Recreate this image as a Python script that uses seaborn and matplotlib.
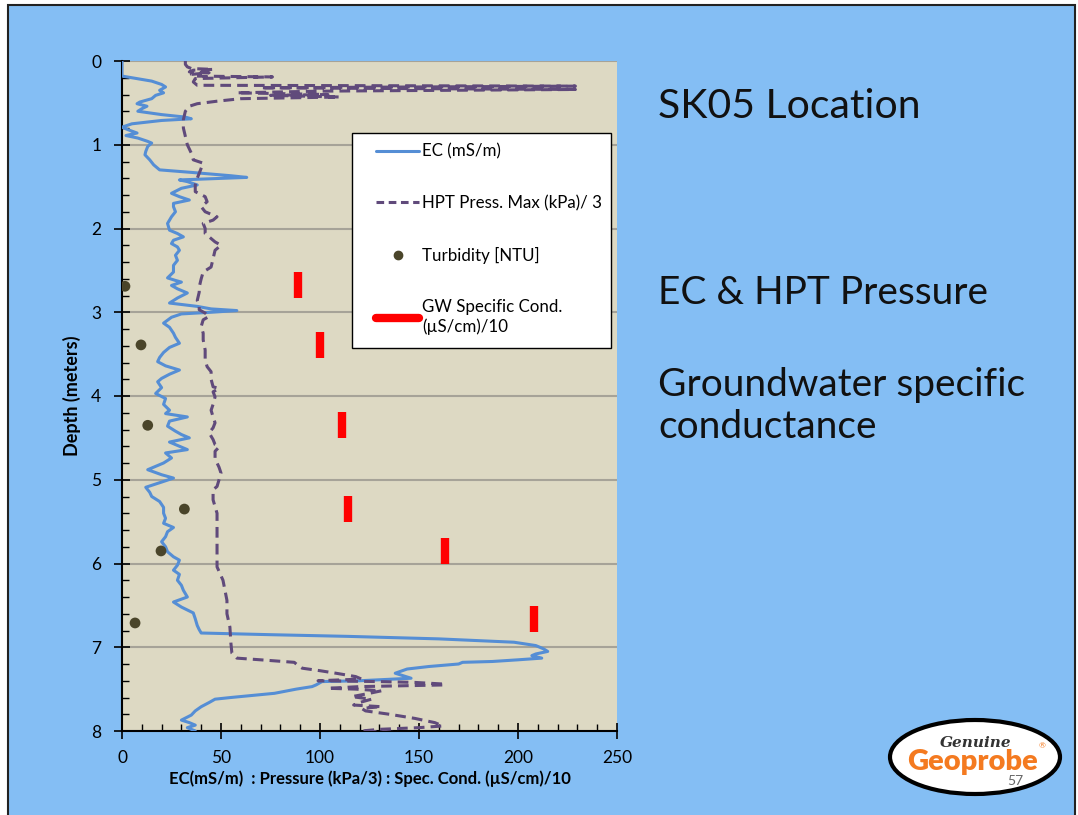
import matplotlib
matplotlib.use("Agg")
import matplotlib.pyplot as plt
from matplotlib.patches import Rectangle, Ellipse
from matplotlib.lines import Line2D
from matplotlib.ticker import MultipleLocator
import seaborn as sns
import pandas as pd

# EC log (depth m, EC mS/m)
ec_depth = [0.00, 0.18, 0.20, 0.24, 0.28, 0.31, 0.35, 0.38, 0.41, 0.45, 0.49, 0.51, 0.54, 0.57, 0.60,
            0.64, 0.67, 0.69, 0.71, 0.75, 0.79, 0.82, 0.86, 0.89, 0.92, 0.96, 0.98, 1.02, 1.08, 1.12,
            1.18, 1.24, 1.30, 1.33, 1.37, 1.39, 1.41, 1.42, 1.44, 1.48, 1.52, 1.58, 1.62, 1.66, 1.70,
            1.74, 1.80, 1.86, 1.94, 2.02, 2.06, 2.10, 2.14, 2.18, 2.22, 2.26, 2.32, 2.38, 2.44, 2.52,
            2.59, 2.62, 2.64, 2.68, 2.72, 2.77, 2.83, 2.89, 2.93, 2.96, 2.98, 3.00, 3.02, 3.06, 3.13,
            3.18, 3.25, 3.30, 3.37, 3.42, 3.48, 3.54, 3.59, 3.64, 3.69, 3.74, 3.79, 3.83, 3.90, 3.97,
            4.03, 4.10, 4.17, 4.21, 4.25, 4.30, 4.36, 4.42, 4.46, 4.50, 4.55, 4.60, 4.64, 4.68, 4.74,
            4.80, 4.88, 4.94, 4.98, 5.02, 5.09, 5.15, 5.20, 5.26, 5.33, 5.40, 5.46, 5.52, 5.57, 5.62,
            5.68, 5.74, 5.80, 5.86, 5.92, 5.96, 6.02, 6.08, 6.13, 6.20, 6.26, 6.32, 6.40, 6.46, 6.52,
            6.59, 6.66, 6.74, 6.79, 6.83, 6.85, 6.87, 6.90, 6.94, 6.98, 7.02, 7.05, 7.08, 7.10, 7.13,
            7.15, 7.17, 7.18, 7.20, 7.23, 7.26, 7.31, 7.34, 7.37, 7.40, 7.41, 7.45, 7.47, 7.50, 7.55,
            7.60, 7.62, 7.66, 7.71, 7.76, 7.81, 7.87, 7.90, 7.93, 7.96, 8.00]
ec_value = [0, 0, 5, 15, 20, 22, 19, 21, 17, 15, 9, 7.6, 12.6, 10, 8,
            20, 32, 35, 20, 5, 0, 3, 7.6, 2, 8, 13, 15, 13, 12, 11.6,
            14, 16, 19, 35, 55, 63, 40, 29, 33, 38, 30, 25, 29, 34, 26,
            26, 27, 25, 23, 24, 28, 31, 26, 25, 28, 29, 27, 28, 26, 26,
            23, 27, 30, 25, 28, 33, 28, 24, 38, 45, 58, 45, 30, 25, 21,
            24, 26, 27, 29, 24, 21, 19, 18, 22, 29, 24, 20, 18, 20, 17,
            22, 21, 24, 22, 33, 24, 23, 27, 30, 34, 24, 29, 33, 22, 25,
            21, 13, 20, 26, 21, 12, 14, 15, 19, 21, 21, 22, 21, 26, 23,
            22, 20, 22, 23, 26, 29, 28, 26, 29, 28, 30, 31, 33, 26, 30,
            36, 37, 38, 39, 40, 75, 114, 160, 198, 209, 213, 215, 209, 207, 212,
            200, 187, 172, 170, 155, 144, 138, 142, 146, 120, 101, 98, 96, 88, 77,
            55, 47, 44, 40, 37, 35, 30, 34, 37, 33, 37]

# HPT pressure max / 3 (depth m, kPa/3)
hpt_depth = [0.00, 0.04, 0.07, 0.09, 0.10, 0.11, 0.13, 0.14, 0.16, 0.18, 0.19, 0.21, 0.25, 0.29, 0.30,
             0.32, 0.34, 0.36, 0.38, 0.40, 0.41, 0.43, 0.45, 0.48, 0.51, 0.54, 0.60, 0.70, 0.80, 0.90,
             1.00, 1.10, 1.18, 1.22, 1.28, 1.34, 1.40, 1.48, 1.56, 1.62, 1.68, 1.74, 1.80, 1.86, 1.90,
             1.94, 2.00, 2.06, 2.12, 2.16, 2.20, 2.26, 2.36, 2.46, 2.52, 2.60, 2.70, 2.76, 2.86, 2.92,
             2.97, 3.01, 3.05, 3.09, 3.17, 3.25, 3.33, 3.45, 3.57, 3.65, 3.71, 3.80, 3.89, 3.91, 3.95,
             4.01, 4.10, 4.17, 4.25, 4.32, 4.38, 4.44, 4.52, 4.58, 4.61, 4.66, 4.75, 4.85, 4.92, 5.00,
             5.08, 5.12, 5.24, 5.40, 5.60, 5.80, 6.04, 6.20, 6.44, 6.60, 6.76, 6.95, 7.07, 7.13, 7.15,
             7.18, 7.22, 7.25, 7.28, 7.31, 7.35, 7.38, 7.39, 7.40, 7.41, 7.42, 7.44, 7.45, 7.47, 7.49,
             7.50, 7.52, 7.55, 7.59, 7.62, 7.66, 7.69, 7.71, 7.73, 7.76, 7.80, 7.85, 7.90, 7.94, 7.96,
             7.98, 8.00, 8.02]
hpt_value = [32, 32, 33, 35, 46, 36, 34, 44, 35, 36, 76, 37, 36, 38, 229,
             70, 229, 100, 58, 104, 75, 110, 60, 48, 38, 34, 32, 31, 31, 32,
             33, 35, 36, 41, 40, 39, 38, 37, 37, 42, 43, 40, 42, 48, 46,
             41, 42, 42, 45, 47, 50, 47, 46, 45, 41, 40, 39, 39, 38, 39,
             39, 42, 44, 41, 40, 41, 41, 42, 42, 43, 45, 45, 46, 49, 46,
             47, 46, 45, 46, 47, 46, 44, 46, 47, 49, 47, 47, 49, 50, 49,
             48, 46, 46, 48, 48, 48, 48, 51, 53, 53, 54.5, 55, 55.5, 58, 70,
             87, 89, 91, 100, 108, 118, 121, 110, 99, 130, 148, 163, 163, 120, 104,
             118, 131, 125, 116, 126, 120, 117, 131, 121, 123, 135, 148, 158, 162, 150,
             130, 121, 140]

# Turbidity samples
turb_depth = [2.69, 3.39, 4.35, 5.35, 5.85, 6.71]
turb_value = [1.5, 9.6, 13, 31.5, 19.7, 6.6]

# groundwater specific conductance / 10
gw_depth = [2.68, 3.39, 4.35, 5.35, 5.85, 6.66]
gw_value = [89, 100, 111, 114, 163, 208]

ec_df = pd.DataFrame({"depth": ec_depth, "ec": ec_value})
hpt_df = pd.DataFrame({"depth": hpt_depth, "hpt": hpt_value})

sns.set_theme(style="white")
plt.rcParams["font.family"] = ["Lato", "DejaVu Sans"]
plt.rcParams["text.color"] = "black"
plt.rcParams["axes.labelcolor"] = "black"

W, H = 1078, 815
slide_blue = "#84BEF4"
ec_col = "#558ED5"
hpt_col = "#604A7B"
turb_col = "#4A452A"

fig = plt.figure(figsize=(W / 100, H / 100), dpi=100)
fig.patch.set_facecolor("white")
fig.patches.append(Rectangle((8 / W, -0.02), (1075 - 8) / W, (815 - 5) / H + 0.02,
                             transform=fig.transFigure, facecolor=slide_blue,
                             edgecolor="#222222", linewidth=1.5, zorder=-5))

ax = fig.add_axes([122 / W, 1 - 731 / H, (617 - 122) / W, (731 - 61) / H])
ax.set_zorder(1)
ax.set_facecolor("#DDD9C3")

sns.lineplot(data=ec_df, x="ec", y="depth", sort=False, estimator=None,
             color=ec_col, linewidth=2.2, ax=ax, zorder=3)
sns.lineplot(data=hpt_df, x="hpt", y="depth", sort=False, estimator=None,
             color=hpt_col, linewidth=2.2, linestyle=(0, (3.5, 2)), ax=ax, zorder=3)
sns.scatterplot(x=turb_value, y=turb_depth, color=turb_col, s=60, edgecolor="none",
                ax=ax, zorder=4)
sns.scatterplot(x=gw_value, y=gw_depth, color="red", marker="|", s=330, linewidth=6,
                ax=ax, zorder=4)

ax.set_xlim(0, 250)
ax.set_ylim(8, 0)
ax.xaxis.set_major_locator(MultipleLocator(50))
ax.xaxis.set_minor_locator(MultipleLocator(10))
ax.yaxis.set_major_locator(MultipleLocator(1))
ax.yaxis.set_minor_locator(MultipleLocator(0.2))
ax.tick_params(which="major", direction="inout", length=12, width=1.2, color="black",
               labelsize=12.5, labelcolor="black", left=True, bottom=True)
ax.tick_params(axis="y", which="major", pad=9)
ax.tick_params(axis="x", which="major", pad=8)
ax.tick_params(which="minor", direction="in", length=5, width=1, color="black",
               left=True, bottom=True)
ax.grid(axis="y", which="major", color="#A6A398", linewidth=1.5)
ax.set_axisbelow(True)
for side in ["top", "right"]:
    ax.spines[side].set_visible(False)
for side in ["left", "bottom"]:
    ax.spines[side].set_color("black")
    ax.spines[side].set_linewidth(1.5)

ax.set_xlabel("EC(mS/m)  : Pressure (kPa/3) : Spec. Cond. (µS/cm)/10",
              fontsize=12, fontweight="bold", labelpad=3)
ax.set_ylabel("Depth (meters)", fontsize=13, fontweight="bold", labelpad=7)

# legend box
ax.add_patch(Rectangle(((352 - 122) / 495, (731 - 348) / 670), (611 - 352) / 495, (348 - 133) / 670,
                       transform=ax.transAxes, facecolor="white", edgecolor="black",
                       linewidth=1, zorder=5))
handles = [Line2D([], [], color=ec_col, linewidth=2.2),
           Line2D([], [], color=hpt_col, linewidth=2.2, linestyle=(0, (2.5, 1.5))),
           Line2D([], [], color=turb_col, marker="o", markersize=6, linestyle="none"),
           Line2D([], [], color="red", linewidth=6)]
labels = ["EC (mS/m)", "HPT Press. Max (kPa)/ 3", "Turbidity [NTU]",
          "GW Specific Cond.\n(µS/cm)/10"]
leg = ax.legend(handles, labels, loc="upper left", frameon=False, fontsize=12.2,
                bbox_to_anchor=((368 - 122) / 495, (731 - 135) / 670),
                handlelength=2.5, handletextpad=0.2, labelspacing=2.1, borderpad=0)
leg.set_zorder(6)

# slide text
fig.text(658 / W, 1 - 107 / H, "SK05 Location", fontsize=29.5, va="center", ha="left",
         color="#111111")
fig.text(658 / W, 1 - 293 / H, "EC & HPT Pressure", fontsize=28, va="center", ha="left",
         color="#111111")
fig.text(658 / W, 1 - 406 / H, "Groundwater specific\nconductance", fontsize=28,
         va="center", ha="left", linespacing=1.2, color="#111111")

# logo
fig.patches.append(Ellipse((975 / W, 1 - 757 / H), 170 / W, 74 / H, transform=fig.transFigure,
                           facecolor="white", edgecolor="black", linewidth=3, zorder=2))
fig.text(976 / W, 1 - 743 / H, "Genuine", fontsize=11, fontstyle="italic", fontweight="bold",
         family=["DejaVu Serif"], color="#333333", ha="center", va="center", zorder=3)
fig.text(972 / W, 1 - 762 / H, "Geoprobe", fontsize=21, fontweight="heavy",
         color="#F47A20", ha="center", va="center", zorder=3)
fig.text(1042 / W, 1 - 746 / H, "®", fontsize=6, color="#F47A20", ha="center", va="center",
         zorder=3)
fig.text(1015 / W, 1 - 781 / H, "57", fontsize=10, color="#666666", ha="center", va="center",
         zorder=3)

fig.savefig("out.png", dpi=100)
